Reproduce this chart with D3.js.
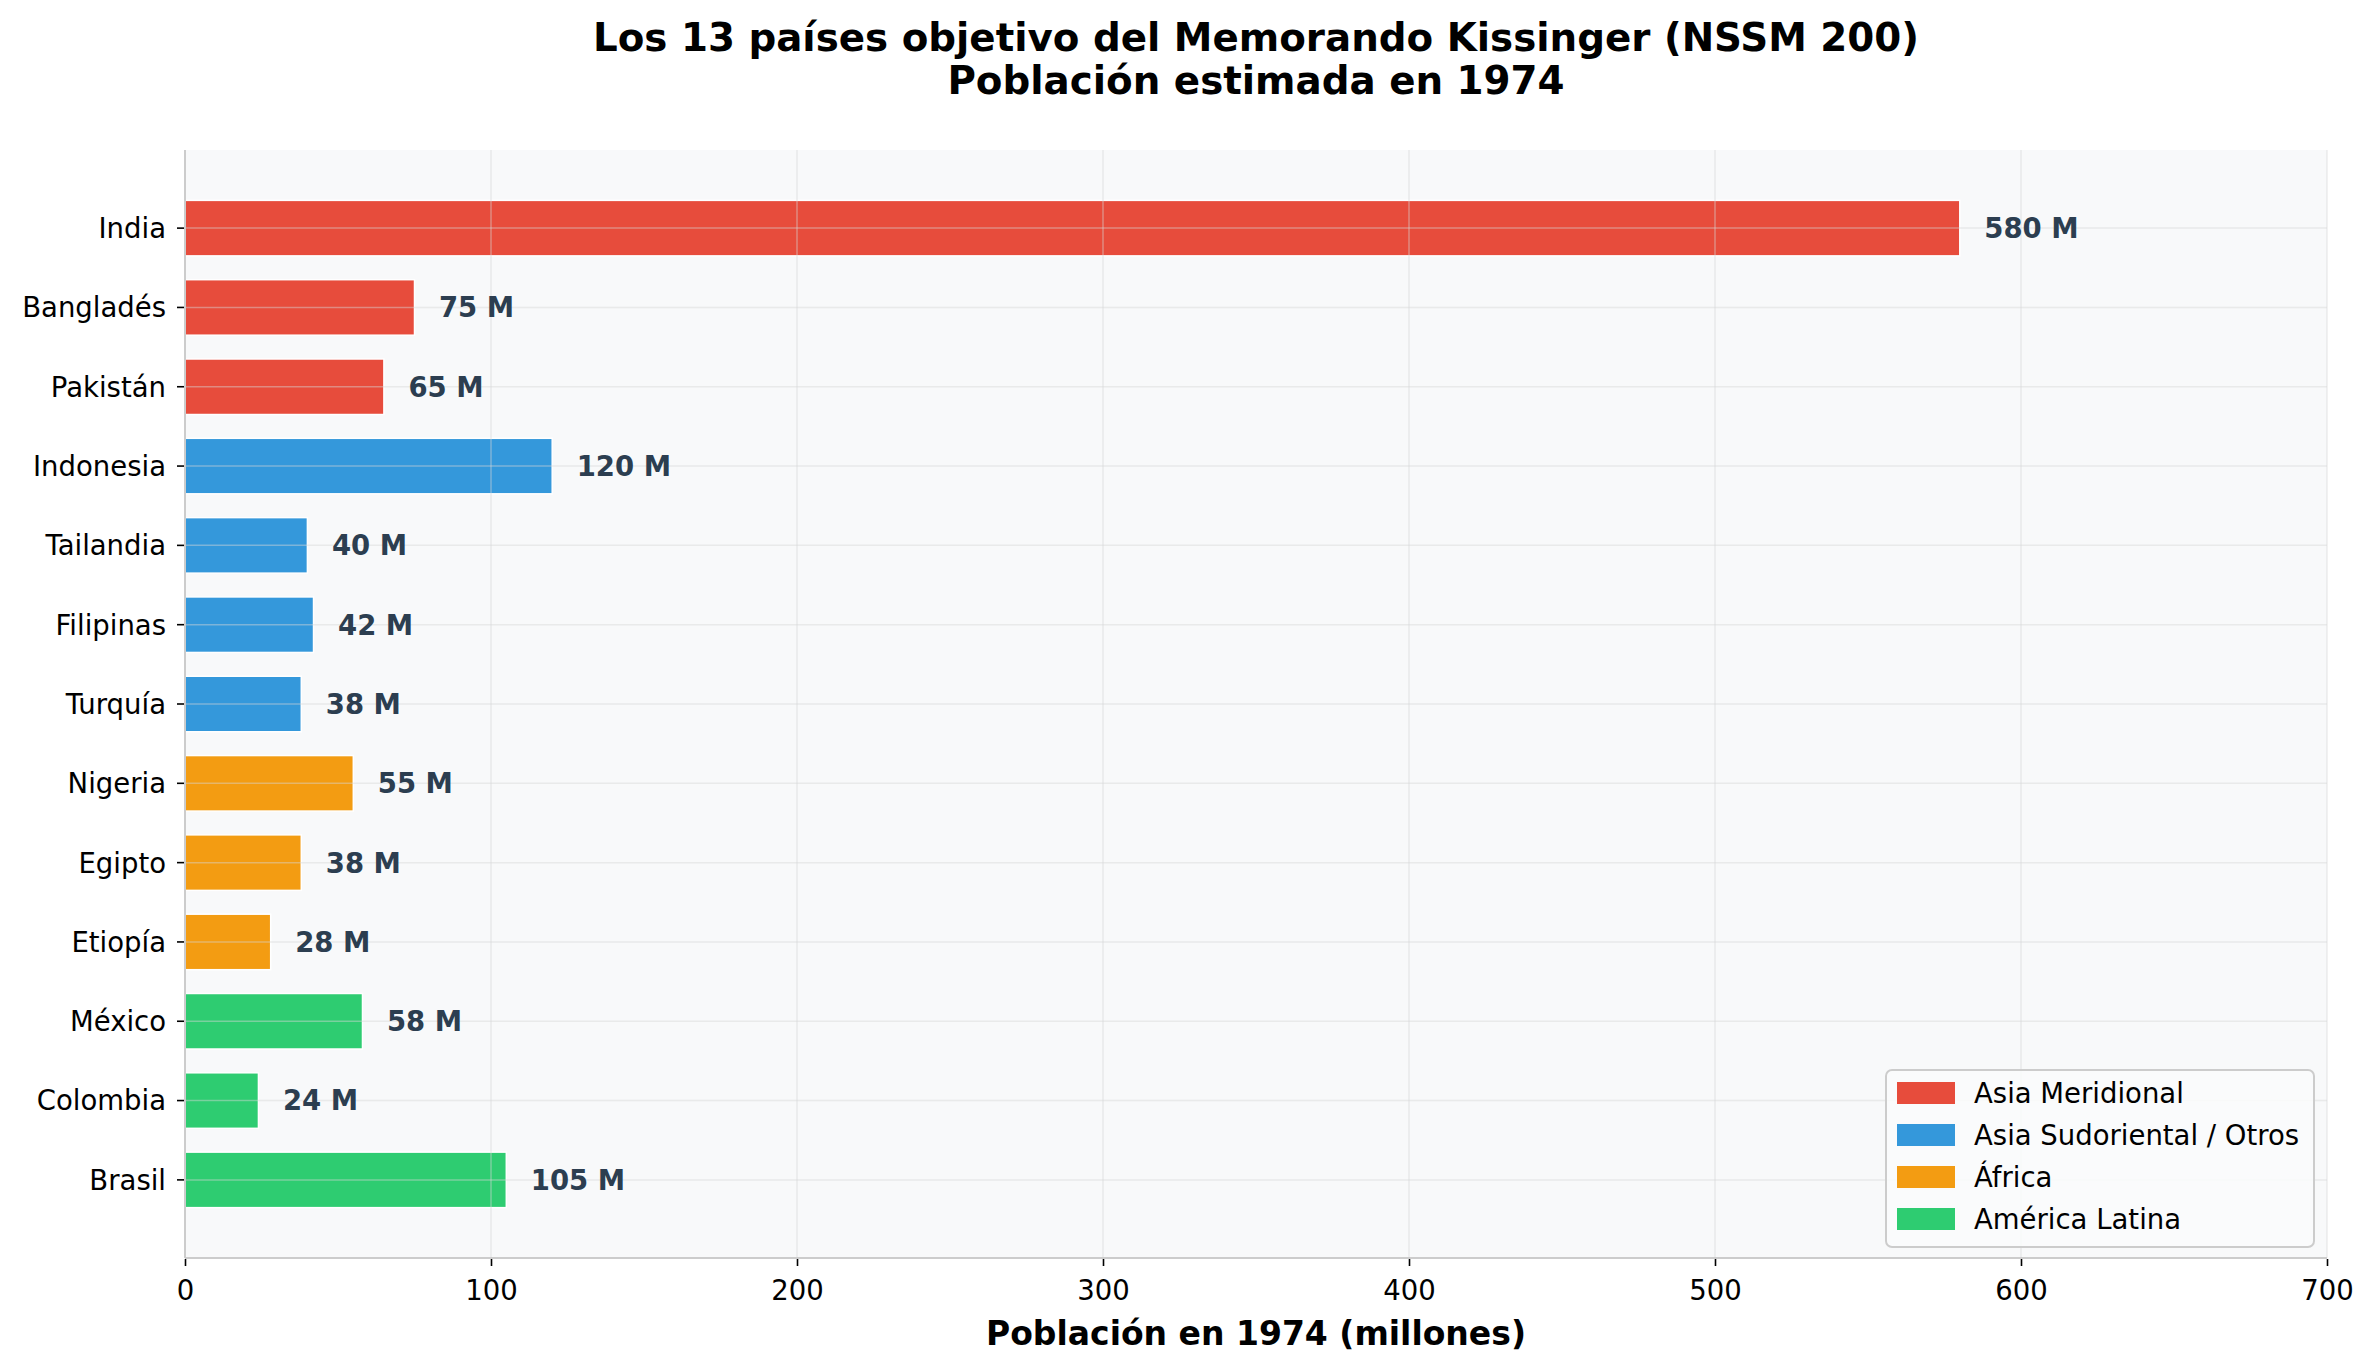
<!DOCTYPE html>
<html>
<head>
<meta charset="utf-8">
<script src="https://cdn.jsdelivr.net/npm/d3@7"></script>
<style>
  body { margin: 0; background: #fff; }
  svg { display: block; font-family: "DejaVu Sans", sans-serif; }
</style>
</head>
<body>
<svg width="2373" height="1371"></svg>
<script>
// data
var countries = ['India','Bangladés','Pakistán','Indonesia','Tailandia','Filipinas','Turquía','Nigeria','Egipto','Etiopía','México','Colombia','Brasil'];
var population = [580,75,65,120,40,42,38,55,38,28,58,24,105];
var region = [0,0,0,1,1,1,1,2,2,2,3,3,3];
var regionNames = ['Asia Meridional','Asia Sudoriental / Otros','África','América Latina'];
var regionColors = ['#e74c3c','#3498db','#f39c12','#2ecc71'];
var xTicks = [0,100,200,300,400,500,600,700];

var svg = d3.select('svg');
var width = 2373, height = 1371;
var margin = {top:150, bottom:113, left:185, right:46};
var innerWidth = width - margin.left - margin.right;
var innerHeight = height - margin.top - margin.bottom;

var g = svg.append('g').attr('transform', 'translate(' + margin.left + ',' + margin.top + ')');

var x = d3.scaleLinear().domain([0,700]).range([0, innerWidth]);
// category positions with matplotlib-like margins
var n = countries.length;
var barH = 0.7;
var pad = 0.05 * (n - 1 + barH);
var yPos = d3.scaleLinear().domain([-barH/2 - pad, n - 1 + barH/2 + pad]).range([0, innerHeight]);

var labelSize = 27.5, valSize = 27.5;

// background
g.append('rect').attr('width', innerWidth).attr('height', innerHeight).attr('fill', '#f8f9fa');

// bars
g.selectAll('.bar')
  .data(countries)
  .enter()
  .append('rect')
  .attr('class', 'bar')
  .attr('x', x(0))
  .attr('y', (d,i) => yPos(i - barH/2))
  .attr('width', (d,i) => x(population[i]) - x(0))
  .attr('height', yPos(barH) - yPos(0))
  .attr('fill', (d,i) => regionColors[region[i]])
  .attr('stroke', '#ffffff')
  .attr('stroke-width', 1.5);

// grid on top of bars
g.selectAll('.vgrid')
  .data(xTicks)
  .enter()
  .append('line')
  .attr('x1', d => x(d)).attr('x2', d => x(d))
  .attr('y1', 0).attr('y2', innerHeight)
  .attr('stroke', '#d8d8d8').attr('stroke-opacity', 0.45).attr('stroke-width', 1.5);
g.selectAll('.hgrid')
  .data(countries)
  .enter()
  .append('line')
  .attr('x1', 0).attr('x2', innerWidth)
  .attr('y1', (d,i) => yPos(i)).attr('y2', (d,i) => yPos(i))
  .attr('stroke', '#d8d8d8').attr('stroke-opacity', 0.45).attr('stroke-width', 1.5);

// value labels
g.selectAll('.val')
  .data(countries)
  .enter()
  .append('text')
  .attr('x', (d,i) => x(population[i] + 8))
  .attr('y', (d,i) => yPos(i) + 0.36 * valSize)
  .attr('font-size', valSize)
  .attr('font-weight', 'bold')
  .attr('fill', '#2c3e50')
  .text((d,i) => population[i] + ' M');

// spines
g.append('line').attr('x1', 0).attr('x2', 0).attr('y1', 0).attr('y2', innerHeight)
  .attr('stroke', '#cccccc').attr('stroke-width', 2);
g.append('line').attr('x1', 0).attr('x2', innerWidth).attr('y1', innerHeight).attr('y2', innerHeight)
  .attr('stroke', '#cccccc').attr('stroke-width', 2);

// x axis
var xAxis = d3.axisBottom(x).tickValues(xTicks).tickSize(7).tickPadding(14);
var xg = g.append('g').attr('transform', 'translate(0,' + (innerHeight + 1) + ')').call(xAxis);
xg.select('.domain').remove();
xg.selectAll('line').attr('stroke', '#000').attr('stroke-width', 1.6);
xg.selectAll('text').attr('font-size', labelSize).attr('fill', '#000').attr('font-family', '"DejaVu Sans", sans-serif');

// y axis
var yg = g.append('g');
yg.selectAll('.ytick')
  .data(countries)
  .enter()
  .append('line')
  .attr('x1', -8).attr('x2', -1)
  .attr('y1', (d,i) => yPos(i)).attr('y2', (d,i) => yPos(i))
  .attr('stroke', '#000').attr('stroke-width', 1.6);
yg.selectAll('.ylab')
  .data(countries)
  .enter()
  .append('text')
  .attr('x', -19)
  .attr('y', (d,i) => yPos(i) + 0.36 * labelSize)
  .attr('text-anchor', 'end')
  .attr('font-size', labelSize)
  .attr('fill', '#000')
  .text(d => d);

// x label
g.append('text')
  .attr('x', innerWidth/2)
  .attr('y', innerHeight + 87)
  .attr('text-anchor', 'middle')
  .attr('font-size', 33)
  .attr('font-weight', 'bold')
  .text('Población en 1974 (millones)');

// title
svg.append('text')
  .attr('x', 1256)
  .attr('y', 51)
  .attr('text-anchor', 'middle')
  .attr('font-size', 38.8)
  .attr('font-weight', 'bold')
  .text('Los 13 países objetivo del Memorando Kissinger (NSSM 200)');
svg.append('text')
  .attr('x', 1256)
  .attr('y', 94)
  .attr('text-anchor', 'middle')
  .attr('font-size', 38.8)
  .attr('font-weight', 'bold')
  .text('Población estimada en 1974');

// legend
var lg = svg.append('g').attr('transform', 'translate(1886,1070)');
lg.append('rect')
  .attr('width', 428).attr('height', 177)
  .attr('rx', 6)
  .attr('fill', 'rgba(250,251,252,0.85)')
  .attr('stroke', '#cccccc').attr('stroke-width', 2);
regionNames.forEach(function(name, i) {
  lg.append('rect')
    .attr('x', 11).attr('y', 12 + i*42)
    .attr('width', 58).attr('height', 22)
    .attr('fill', regionColors[i]);
  lg.append('text')
    .attr('x', 88).attr('y', 23 + i*42 + 0.36 * 27.5)
    .attr('font-size', 27.5)
    .attr('fill', '#000')
    .text(name);
});
</script>
</body>
</html>
